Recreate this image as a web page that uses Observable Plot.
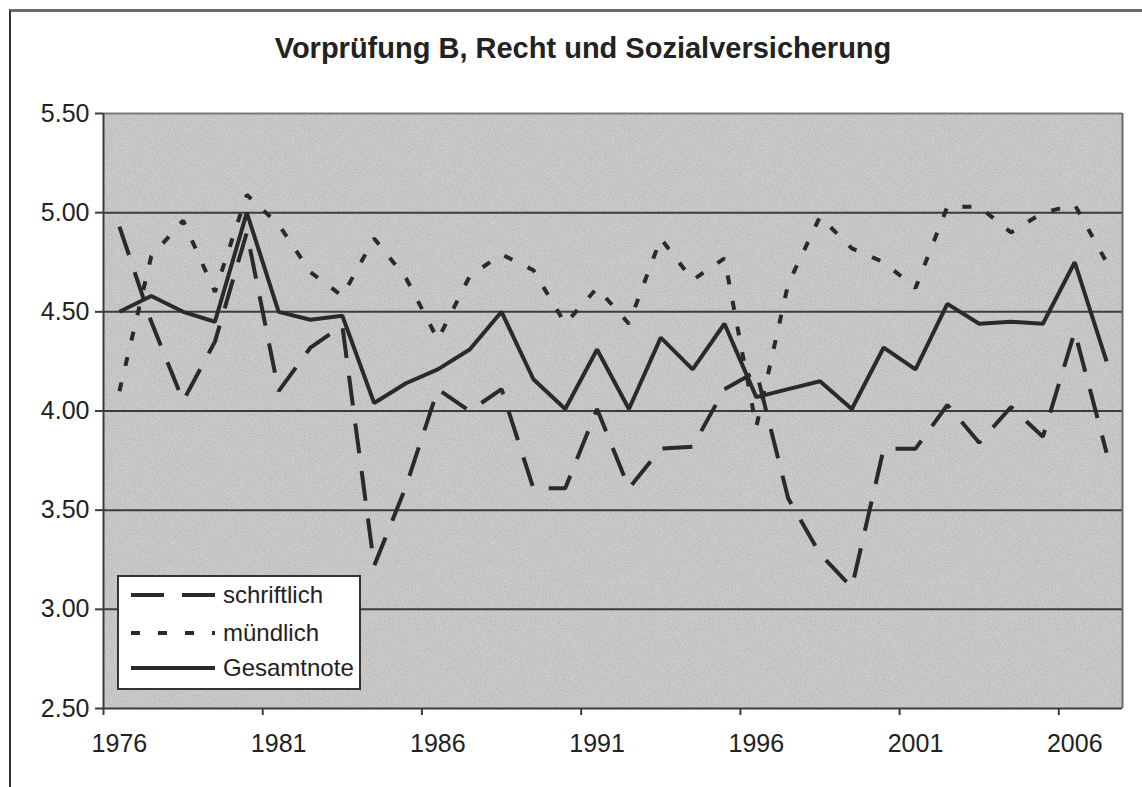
<!DOCTYPE html>
<html>
<head>
<meta charset="utf-8">
<script src="https://cdn.jsdelivr.net/npm/d3@7"></script>
<script src="https://cdn.jsdelivr.net/npm/@observablehq/plot@0.6"></script>
<style>
  html, body { margin: 0; padding: 0; background: #fff; }
  #wrap { position: relative; width: 1142px; height: 787px; overflow: hidden; font-family: "Liberation Sans", Arial, sans-serif; }
  #border { position: absolute; left: 9px; top: 9px; width: 1140px; height: 790px; border-left: 2px solid #333; border-top: 3px solid #6a6a6a; box-sizing: border-box; pointer-events: none; }
  #legend { position: absolute; left: 117px; top: 575px; width: 244px; height: 115px; background: #fff; border: 2px solid #333; box-sizing: border-box; }
  #legend svg { position: absolute; left: 0; top: 0; }
</style>
</head>
<body>
<div id="wrap">
  <div id="chart"></div>
  <div id="border"></div>
  <div id="legend"></div>
</div>
<script>
const title = "Vorprüfung B, Recht und Sozialversicherung";
const years = d3.range(1976, 2008);
const schriftlich = [4.93, 4.45, 4.05, 4.35, 4.90, 4.10, 4.32, 4.43, 3.22, 3.62, 4.11, 4.00, 4.11, 3.61, 3.61, 4.01,
                     3.61, 3.81, 3.82, 4.11, 4.20, 3.56, 3.28, 3.11, 3.81, 3.81, 4.03, 3.84, 4.02, 3.87, 4.40, 3.79];
const muendlich   = [4.10, 4.78, 4.96, 4.60, 5.09, 4.94, 4.70, 4.58, 4.87, 4.67, 4.36, 4.68, 4.79, 4.71, 4.44, 4.62,
                     4.44, 4.87, 4.66, 4.77, 3.92, 4.64, 4.98, 4.82, 4.75, 4.62, 5.03, 5.03, 4.90, 5.00, 5.04, 4.75];
const gesamtnote  = [4.50, 4.58, 4.50, 4.45, 5.00, 4.50, 4.46, 4.48, 4.04, 4.14, 4.21, 4.31, 4.50, 4.16, 4.01, 4.31,
                     4.01, 4.37, 4.21, 4.44, 4.07, 4.11, 4.15, 4.01, 4.32, 4.21, 4.54, 4.44, 4.45, 4.44, 4.75, 4.25];
const seriesNames = ["schriftlich", "mündlich", "Gesamtnote"];
const yTicks = [2.5, 3.0, 3.5, 4.0, 4.5, 5.0, 5.5];
const xLabelYears = [1976, 1981, 1986, 1991, 1996, 2001, 2006];

const seriesValues = [schriftlich, muendlich, gesamtnote];
const dashes = {"schriftlich": "30,18", "mündlich": "9,17", "Gesamtnote": null};
const ink = "#2a2a2a";

const table = seriesNames.flatMap((name, s) => years.map((year, i) => ({series: name, year, value: seriesValues[s][i]})));
const boundaries = xLabelYears.map(y => y - 0.5);

const lineMark = name => Plot.line(table.filter(d => d.series === name), {
  x: "year", y: "value", stroke: ink, strokeWidth: 4,
  strokeDasharray: dashes[name], strokeLinejoin: "miter", strokeLinecap: "butt"
});

const chart = Plot.plot({
  width: 1142,
  height: 787,
  marginLeft: 103,
  marginRight: 20,
  marginTop: 113,
  marginBottom: 79,
  style: {fontFamily: "'Liberation Sans', Arial, sans-serif", background: "transparent", color: "#222"},
  x: {type: "linear", domain: [1975.5, 2007.5]},
  y: {domain: [2.5, 5.5]},
  marks: [
    Plot.frame({fill: "#cbcbcb", stroke: null}),
    Plot.ruleY(yTicks.slice(1, -1), {stroke: "#3c3c3c", strokeWidth: 2}),
    Plot.ruleY([5.5], {stroke: "#7a7a7a", strokeWidth: 2}),
    lineMark("mündlich"),
    lineMark("schriftlich"),
    lineMark("Gesamtnote"),
    Plot.ruleX([1975.5], {stroke: "#3c3c3c", strokeWidth: 2}),
    Plot.ruleX([2007.5], {stroke: "#6a6a6a", strokeWidth: 2}),
    Plot.ruleY([2.5], {stroke: "#3c3c3c", strokeWidth: 2}),
    Plot.axisY({ticks: yTicks, tickFormat: d => d.toFixed(2), tickSize: 8, tickPadding: 6, fontSize: 25, stroke: "#3c3c3c", strokeWidth: 2, label: null}),
    Plot.axisX({ticks: boundaries, tickFormat: () => "", tickSize: 7, stroke: "#3c3c3c", strokeWidth: 2, label: null}),
    Plot.axisX({ticks: xLabelYears, tickFormat: d => String(d), tickSize: 0, tickPadding: 26, fontSize: 25, label: null}),
    Plot.text([title], {frameAnchor: "top", lineAnchor: "middle", dy: -65, dx: -30, fontSize: 29, fontWeight: "bold", fill: "#222"})
  ]
});
document.getElementById("chart").appendChild(chart);

// subtle grain on the plot background, like the scanned original
const svg = d3.select(chart.tagName.toLowerCase() === "svg" ? chart : chart.querySelector("svg"));
const defs = svg.insert("defs", ":first-child");
const f = defs.append("filter").attr("id", "grain").attr("x", 0).attr("y", 0).attr("width", 1).attr("height", 1);
f.append("feTurbulence").attr("type", "fractalNoise").attr("baseFrequency", 0.8).attr("numOctaves", 2).attr("seed", 3).attr("result", "noise");
f.append("feColorMatrix").attr("in", "noise").attr("type", "matrix")
  .attr("values", "0 0 0 0 0  0 0 0 0 0  0 0 0 0 0  0 0 0 -0.5 0.3").attr("result", "dark");
f.append("feComposite").attr("in", "dark").attr("in2", "SourceGraphic").attr("operator", "in").attr("result", "grainIn");
f.append("feMerge").call(m => { m.append("feMergeNode").attr("in", "SourceGraphic"); m.append("feMergeNode").attr("in", "grainIn"); });
svg.selectAll("[aria-label='frame']").attr("filter", "url(#grain)");

// legend
const leg = d3.select("#legend").append("svg").attr("width", 244).attr("height", 115);
const rowsY = [18, 56, 91];
seriesNames.forEach((name, i) => {
  leg.append("line")
    .attr("x1", 12).attr("x2", 96).attr("y1", rowsY[i]).attr("y2", rowsY[i])
    .attr("stroke", ink).attr("stroke-width", 4)
    .attr("stroke-dasharray", name === "schriftlich" ? "33,18" : name === "mündlich" ? "9,18" : null);
  leg.append("text")
    .attr("x", 104).attr("y", rowsY[i]).attr("dy", "0.35em")
    .attr("font-size", 24).attr("fill", "#222")
    .attr("font-family", "'Liberation Sans', Arial, sans-serif")
    .text(name);
});
</script>
</body>
</html>
